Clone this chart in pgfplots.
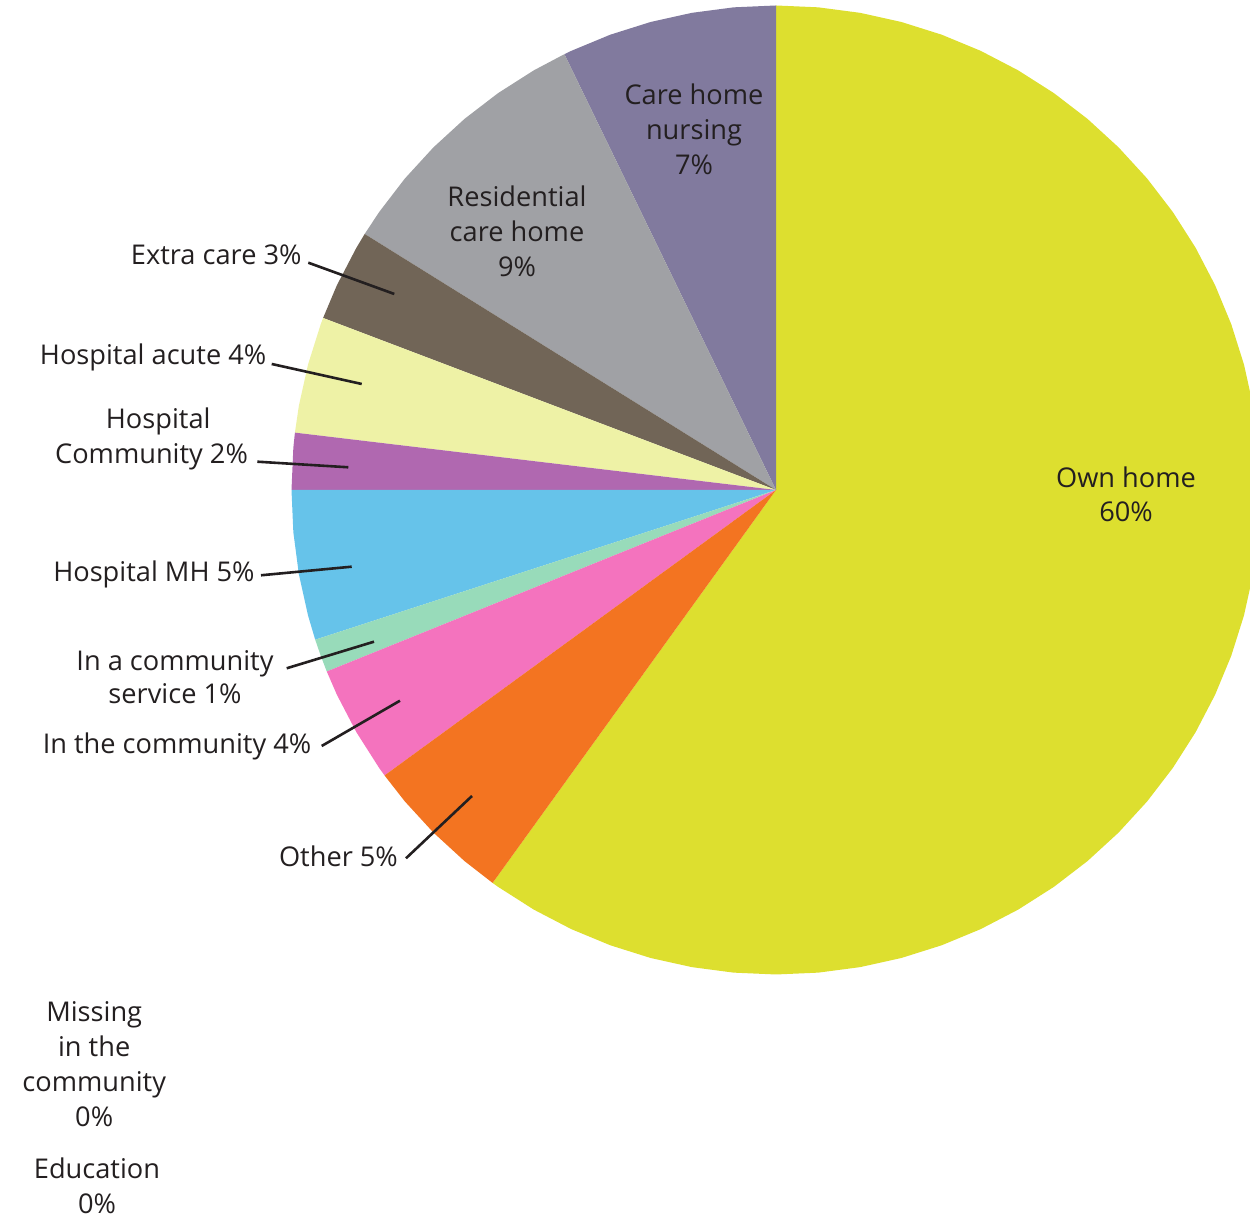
\documentclass[border=0pt]{standalone}
\usepackage{pgfplots}
\pgfplotsset{compat=1.18}
\usepackage{fontspec}
\setmainfont{Open Sans}

\definecolor{ink}{HTML}{231F20}
\definecolor{ownhome}{HTML}{DDDF2F}
\definecolor{nursing}{HTML}{817A9E}
\definecolor{resid}{HTML}{A0A1A5}
\definecolor{extra}{HTML}{716557}
\definecolor{acute}{HTML}{EEF2A6}
\definecolor{hcomm}{HTML}{B068B0}
\definecolor{mh}{HTML}{66C3EA}
\definecolor{service}{HTML}{98DBBA}
\definecolor{incomm}{HTML}{F473BE}
\definecolor{other}{HTML}{F37421}

\tikzset{
  lbl/.style={inner sep=0pt, text=ink, font=\fontsize{13.6}{17}\selectfont, anchor=base},
  lblr/.style={lbl, anchor=base east},
}
\pgfplotsset{
  wedge/.style={draw=none, fill=#1, data cs=polar},
  leader/.style={draw=ink, line width=1.3pt, mark=none},
}

\begin{document}
\begin{tikzpicture}
\begin{axis}[
  name=pie, hide axis,
  x=0.5pt, y=0.5pt,
  xmin=-776, xmax=474, ymin=-730, ymax=490,
]
% wedges: (angle, radius), pie radius 484.5, clockwise from the top
\addplot[wedge=ownhome] coordinates {(0,0) (234.2,484.5) (235,484.5) (240,484.5) (245,484.5)
  (250,484.5) (255,484.5) (260,484.5) (265,484.5) (270,484.5) (275,484.5) (280,484.5)
  (285,484.5) (290,484.5) (295,484.5) (300,484.5) (305,484.5) (310,484.5) (315,484.5)
  (320,484.5) (325,484.5) (330,484.5) (335,484.5) (340,484.5) (345,484.5) (350,484.5)
  (355,484.5) (360,484.5) (365,484.5) (370,484.5) (375,484.5) (380,484.5) (385,484.5)
  (390,484.5) (395,484.5) (400,484.5) (405,484.5) (410,484.5) (415,484.5) (420,484.5)
  (425,484.5) (430,484.5) (435,484.5) (440,484.5) (445,484.5) (450,484.5)};
\addplot[wedge=nursing] coordinates {(0,0) (90,484.5) (95,484.5) (100,484.5) (105,484.5)
  (110,484.5) (115,484.5) (115.9,484.5)};
\addplot[wedge=resid] coordinates {(0,0) (115.9,484.5) (120,484.5) (125,484.5) (130,484.5)
  (135,484.5) (140,484.5) (145,484.5) (148.1,484.5)};
\addplot[wedge=extra] coordinates {(0,0) (148.1,484.5) (150,484.5) (155,484.5) (159.2,484.5)};
\addplot[wedge=acute] coordinates {(0,0) (159.2,484.5) (160,484.5) (165,484.5) (170,484.5) (173.2,484.5)};
\addplot[wedge=hcomm] coordinates {(0,0) (173.2,484.5) (175,484.5) (180,484.5)};
\addplot[wedge=mh] coordinates {(0,0) (180,484.5) (185,484.5) (190,484.5) (195,484.5) (198,484.5)};
\addplot[wedge=service] coordinates {(0,0) (198,484.5) (200,484.5) (202,484.5)};
\addplot[wedge=incomm] coordinates {(0,0) (202,484.5) (205,484.5) (210,484.5) (215,484.5) (216.1,484.5)};
\addplot[wedge=other] coordinates {(0,0) (216.1,484.5) (220,484.5) (225,484.5) (230,484.5) (234.2,484.5)};

% leader lines
\addplot[leader] coordinates {(-467.7,227.3) (-381.7,196)};
\addplot[leader] coordinates {(-504.3,126) (-414.3,106)};
\addplot[leader] coordinates {(-518.7,28.3) (-427.7,22.7)};
\addplot[leader] coordinates {(-515,-85.3) (-424.3,-76.7)};
\addplot[leader] coordinates {(-489.3,-178.3) (-402,-151.7)};
\addplot[leader] coordinates {(-454.3,-256) (-376,-210.7)};
\addplot[leader] coordinates {(-370,-368.3) (-304,-306)};

% labels inside the pie
\node[lbl] at (axis cs:-82,385) {Care home};
\node[lbl] at (axis cs:-82,350) {nursing};
\node[lbl] at (axis cs:-82,315) {7\%};
\node[lbl] at (axis cs:-259,283) {Residential};
\node[lbl] at (axis cs:-259,248) {care home};
\node[lbl] at (axis cs:-259,213) {9\%};
\node[lbl] at (axis cs:350,2) {Own home};
\node[lbl] at (axis cs:350,-32) {60\%};

% labels outside
\node[lblr] at (axis cs:-474,225) {Extra care 3\%};
\node[lblr] at (axis cs:-509.3,125) {Hospital acute 4\%};
\node[lbl] at (axis cs:-617.8,61.7) {Hospital};
\node[lblr] at (axis cs:-527.7,26.7) {Community 2\%};
\node[lblr] at (axis cs:-521,-91.7) {Hospital MH 5\%};
\node[lbl] at (axis cs:-601,-180.7) {In a community};
\node[lbl] at (axis cs:-601,-214) {service 1\%};
\node[lblr] at (axis cs:-464.3,-263.3) {In the community 4\%};
\node[lblr] at (axis cs:-377.7,-376.7) {Other 5\%};
\node[lbl] at (axis cs:-681.8,-531.7) {Missing};
\node[lbl] at (axis cs:-681.8,-566.7) {in the};
\node[lbl] at (axis cs:-681.8,-601.7) {community};
\node[lbl] at (axis cs:-681.8,-636.7) {0\%};
\node[lbl] at (axis cs:-679,-688.3) {Education};
\node[lbl] at (axis cs:-679,-723.3) {0\%};
\end{axis}
\pgfresetboundingbox
\useasboundingbox (pie.south west) rectangle (pie.north east);
\end{tikzpicture}
\end{document}
